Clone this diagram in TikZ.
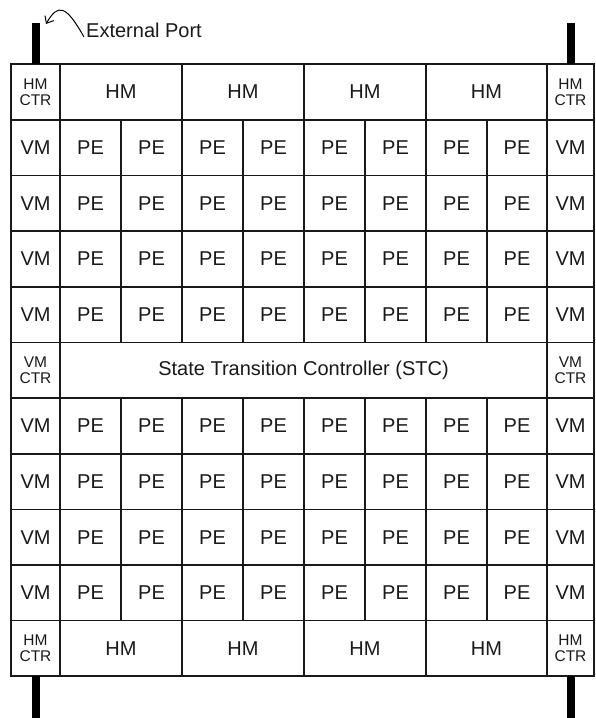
\documentclass[tikz,border=0pt]{standalone}
\usepackage{fontspec}
\setmainfont{Liberation Sans}
\usetikzlibrary{arrows.meta}
\begin{document}
\begin{tikzpicture}[x=1pt,y=-1pt,
  cell/.style={draw=black!90, line width=1.6pt, inner sep=0pt, outer sep=0pt,
    font=\fontsize{20}{22}\selectfont, text=black!90},
  ctr/.style={cell, font=\fontsize{15.5}{17}\selectfont, align=center},
  port/.style={fill=black, draw=none, minimum width=8pt, inner sep=0pt, outer sep=0pt}]
\useasboundingbox (0,0) rectangle (595,718);

% column borders: 11 | 60 | PE x8 | 547 | 594
\def\colx{{11,60,121,182,243,304,365,426,487,547,594}}
% row borders, top to bottom
\def\rowy{{64,120,175.5,231,287,342.5,398,454,509.5,565,620.5,676}}

% processing-element rows with vertical memories at both ends
\foreach \r in {1,2,3,4,6,7,8,9} {
  \pgfmathsetmacro\ya{\rowy[\r]}
  \pgfmathsetmacro\yb{\rowy[\r+1]}
  \pgfmathsetmacro\yc{(\ya+\yb)/2}
  \pgfmathsetmacro\h{\yb-\ya}
  \node[cell, minimum width=49pt, minimum height=\h pt] (vml-\r) at (35.5,\yc) {VM};
  \node[cell, minimum width=47pt, minimum height=\h pt] (vmr-\r) at (570.5,\yc) {VM};
  \foreach \c in {1,...,8} {
    \pgfmathsetmacro\xa{\colx[\c]}
    \pgfmathsetmacro\xb{\colx[\c+1]}
    \pgfmathsetmacro\xc{(\xa+\xb)/2}
    \pgfmathsetmacro\w{\xb-\xa}
    \node[cell, minimum width=\w pt, minimum height=\h pt] (pe-\r-\c) at (\xc,\yc) {PE};
  }
}

% horizontal memory rows (top and bottom)
\foreach \r/\tag in {0/top,10/bot} {
  \pgfmathsetmacro\ya{\rowy[\r]}
  \pgfmathsetmacro\yb{\rowy[\r+1]}
  \pgfmathsetmacro\yc{(\ya+\yb)/2}
  \pgfmathsetmacro\h{\yb-\ya}
  \node[ctr, minimum width=49pt, minimum height=\h pt] (hmctrl-\tag) at (35.5,\yc) {HM\\[-1pt]CTR};
  \node[ctr, minimum width=47pt, minimum height=\h pt] (hmctrr-\tag) at (570.5,\yc) {HM\\[-1pt]CTR};
  \foreach \c in {1,...,4} {
    \pgfmathsetmacro\xa{\colx[2*\c-1]}
    \pgfmathsetmacro\xb{\colx[2*\c+1]}
    \pgfmathsetmacro\xc{(\xa+\xb)/2}
    \pgfmathsetmacro\w{\xb-\xa}
    \node[cell, minimum width=\w pt, minimum height=\h pt] (hm-\tag-\c) at (\xc,\yc) {HM};
  }
}

% state transition controller row
\node[ctr, minimum width=49pt, minimum height=55.5pt] (vmctrl) at (35.5,370.25) {VM\\[-1pt]CTR};
\node[ctr, minimum width=47pt, minimum height=55.5pt] (vmctrr) at (570.5,370.25) {VM\\[-1pt]CTR};
\node[cell, minimum width=487pt, minimum height=55.5pt] (stc) at (303.5,370.25)
  {State Transition Controller (STC)};

% external ports
\node[port, minimum height=41pt, anchor=south] (port-tl) at (hmctrl-top.north) {};
\node[port, minimum height=41pt, anchor=south] (port-tr) at (hmctrr-top.north) {};
\node[port, minimum height=42pt, anchor=north] (port-bl) at (hmctrl-bot.south) {};
\node[port, minimum height=42pt, anchor=north] (port-br) at (hmctrr-bot.south) {};

% label with its pointer
\node[anchor=base west, inner sep=0pt, font=\fontsize{20}{22}\selectfont, text=black!90]
  (extlabel) at (86,37) {External Port};
\coordinate (arrowtip) at (46,24);
\draw[line width=1pt, -{Straight Barb[length=6pt,width=10pt]}]
  ([xshift=-2pt]extlabel.base west) .. controls (66,5) and (58,3) .. (arrowtip);
\end{tikzpicture}
\end{document}
